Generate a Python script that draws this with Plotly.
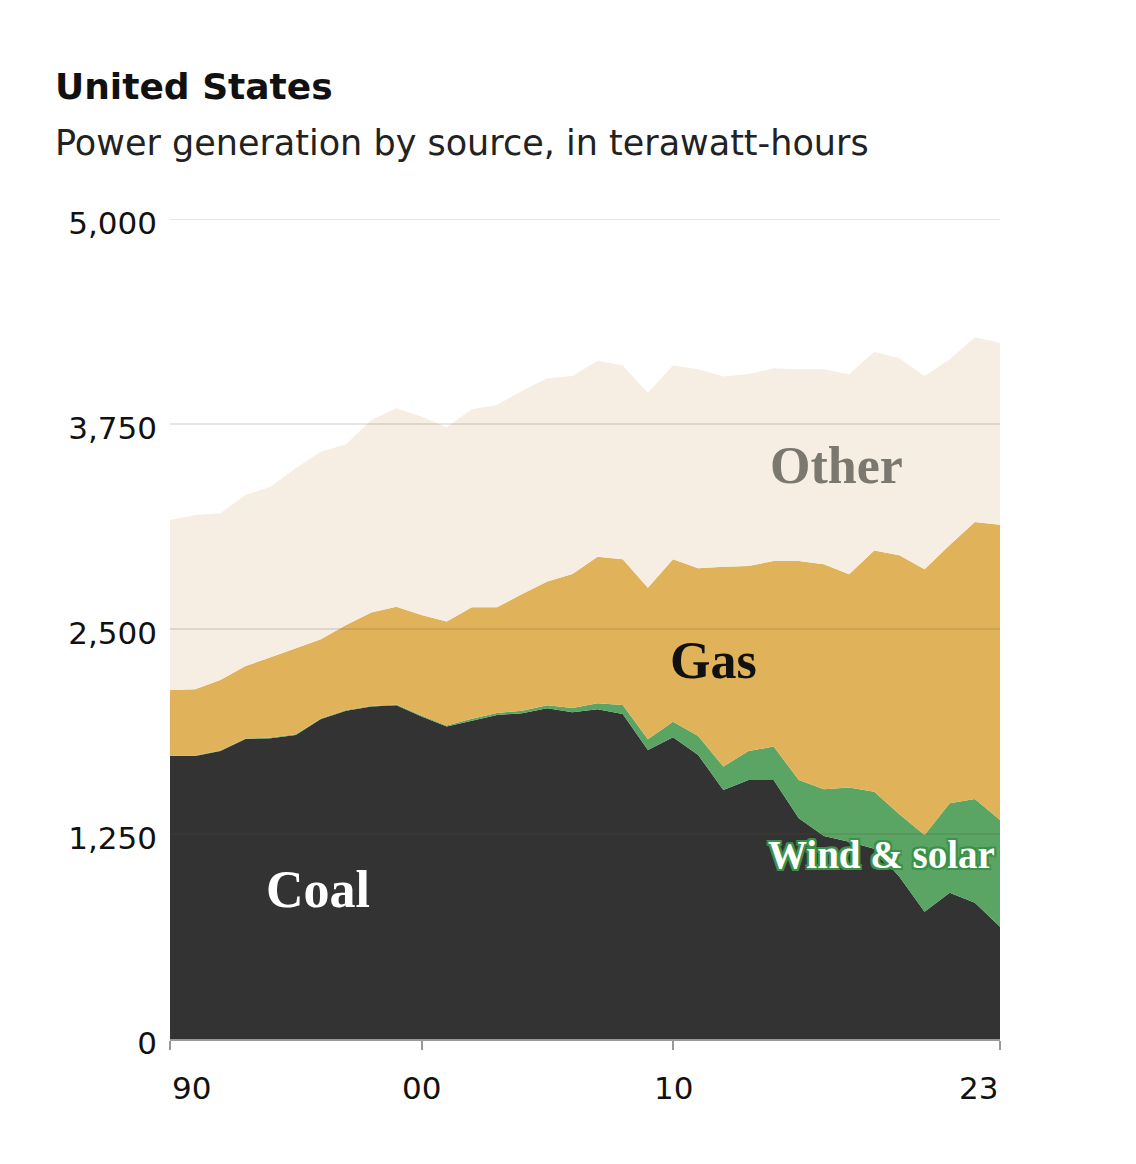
import plotly.graph_objects as go

# 1990 - 2023, terawatt-hours
years = list(range(1990, 2024))
coal = [1726, 1726, 1756, 1829, 1834, 1854, 1951, 2002, 2027, 2035,
        1966, 1905, 1941, 1976, 1986, 2017, 1992, 2010, 1982, 1762,
        1840, 1732, 1518, 1579, 1579, 1346, 1238, 1203, 1160, 990,
        776, 892, 831, 685]
wind_solar = [3, 3, 3, 3, 4, 4, 4, 4, 4, 5,
              6, 7, 11, 12, 15, 18, 27, 37, 55, 66,
              95, 116, 143, 177, 204, 233, 285, 330, 348, 380,
              468, 545, 633, 650]
gas = [399, 403, 430, 442, 489, 524, 482, 519, 569, 596,
       614, 633, 680, 644, 713, 754, 817, 894, 888, 924,
       990, 1022, 1219, 1128, 1132, 1336, 1372, 1301, 1470, 1580,
       1620, 1575, 1689, 1801]
other = [1037, 1063, 1017, 1043, 1041, 1098, 1144, 1101, 1175, 1210,
         1209, 1185, 1208, 1234, 1239, 1240, 1207, 1195, 1181, 1189,
         1181, 1214, 1159, 1171, 1175, 1169, 1189, 1219, 1213, 1201,
         1179, 1133, 1126, 1110]

y_ticks = [0, 1250, 2500, 3750, 5000]
y_ticktext = ['0', '1,250', '2,500', '3,750', '5,000']
x_ticks = [1990, 2000, 2010, 2023]
x_ticktext = ['90', '00', '10', '23']

SANS = 'DejaVu Sans, sans-serif'
SERIF = 'Liberation Serif, Times New Roman, serif'

series = [
    ('Coal', coal, '#333333'),
    ('Wind & solar', wind_solar, '#5aa464'),
    ('Gas', gas, '#e0b35a'),
    ('Other', other, '#f7eee3'),
]

# plot area in page pixels: x 170..1000, y 219..1039 (page has 8px body margin)
PW, PH = 830, 820
def px(xp):
    return (xp - 170) / PW
def py(yp):
    return (1039 - yp) / PH

fig = go.Figure()
for name, vals, color in series:
    fig.add_trace(go.Scatter(x=years, y=vals, name=name, mode='lines',
                             stackgroup='one', line=dict(width=0, color=color),
                             fillcolor=color, hoverinfo='x+y+name'))

# gridlines sit on top of the areas
for v in y_ticks[1:]:
    fig.add_shape(type='line', xref='x', yref='y', x0=1990, x1=2023, y0=v, y1=v,
                  line=dict(color='rgba(90,80,70,0.15)', width=2), layer='above')

# x tick labels: first one left-aligned, last one right-aligned
anchors = ['left', 'center', 'center', 'right']
for xv, txt, anc in zip(x_ticks, x_ticktext, anchors):
    fig.add_annotation(x=xv, y=0, xref='x', yref='y', text=txt, showarrow=False,
                       xanchor=anc, yanchor='top', yshift=-29,
                       font=dict(family=SANS, size=31, color='#111111'))

# series labels
fig.add_annotation(x=2016.5, y=3500, text='<b>Other</b>', showarrow=False,
                   font=dict(family=SERIF, size=52, color='#7b7870'))
fig.add_annotation(x=2011.6, y=2311, text='<b>Gas</b>', showarrow=False,
                   font=dict(family=SERIF, size=52, color='#111111'))
fig.add_annotation(x=1995.9, y=909, text='<b>Coal</b>', showarrow=False,
                   font=dict(family=SERIF, size=52, color='#ffffff'))
glow = ', '.join(['%dpx %dpx 0 #3a9147' % (dx, dy)
                  for dx, dy in [(2, 0), (-2, 0), (0, 2), (0, -2),
                                 (2, 2), (-2, -2), (2, -2), (-2, 2)]])
fig.add_annotation(x=2018.3, y=1122, text='<b>Wind & solar</b>', showarrow=False,
                   font=dict(family=SERIF, size=39, color='#ffffff', shadow=glow))

# title + subtitle
fig.add_annotation(x=px(53), y=py(86), xref='paper', yref='paper',
                   text='<b>United States</b>', showarrow=False,
                   xanchor='left', yanchor='middle',
                   font=dict(family=SANS, size=36, color='#111111'))
fig.add_annotation(x=px(53), y=py(143), xref='paper', yref='paper',
                   text='Power generation by source, in terawatt-hours', showarrow=False,
                   xanchor='left', yanchor='middle',
                   font=dict(family=SANS, size=35, color='#222222'))

fig.update_layout(
    width=1136, height=1164,
    margin=dict(l=162, r=1136 - 162 - PW, t=211, b=1164 - 211 - PH),
    paper_bgcolor='white', plot_bgcolor='white',
    showlegend=False,
    xaxis=dict(range=[1990, 2023], tickvals=x_ticks, showticklabels=False,
               ticks='outside', ticklen=9, tickwidth=2, tickcolor='#999999',
               showline=True, linecolor='#999999', linewidth=2,
               showgrid=False, zeroline=False, fixedrange=True),
    yaxis=dict(range=[0, 5000], tickvals=y_ticks, ticktext=y_ticktext,
               showgrid=False, zeroline=False, showline=False, ticks='',
               ticklabelstandoff=12, ticklabelshift=4,
               tickfont=dict(family=SANS, size=31, color='#111111'),
               fixedrange=True),
)

# fig.show()
fig.write_html('out.html')
